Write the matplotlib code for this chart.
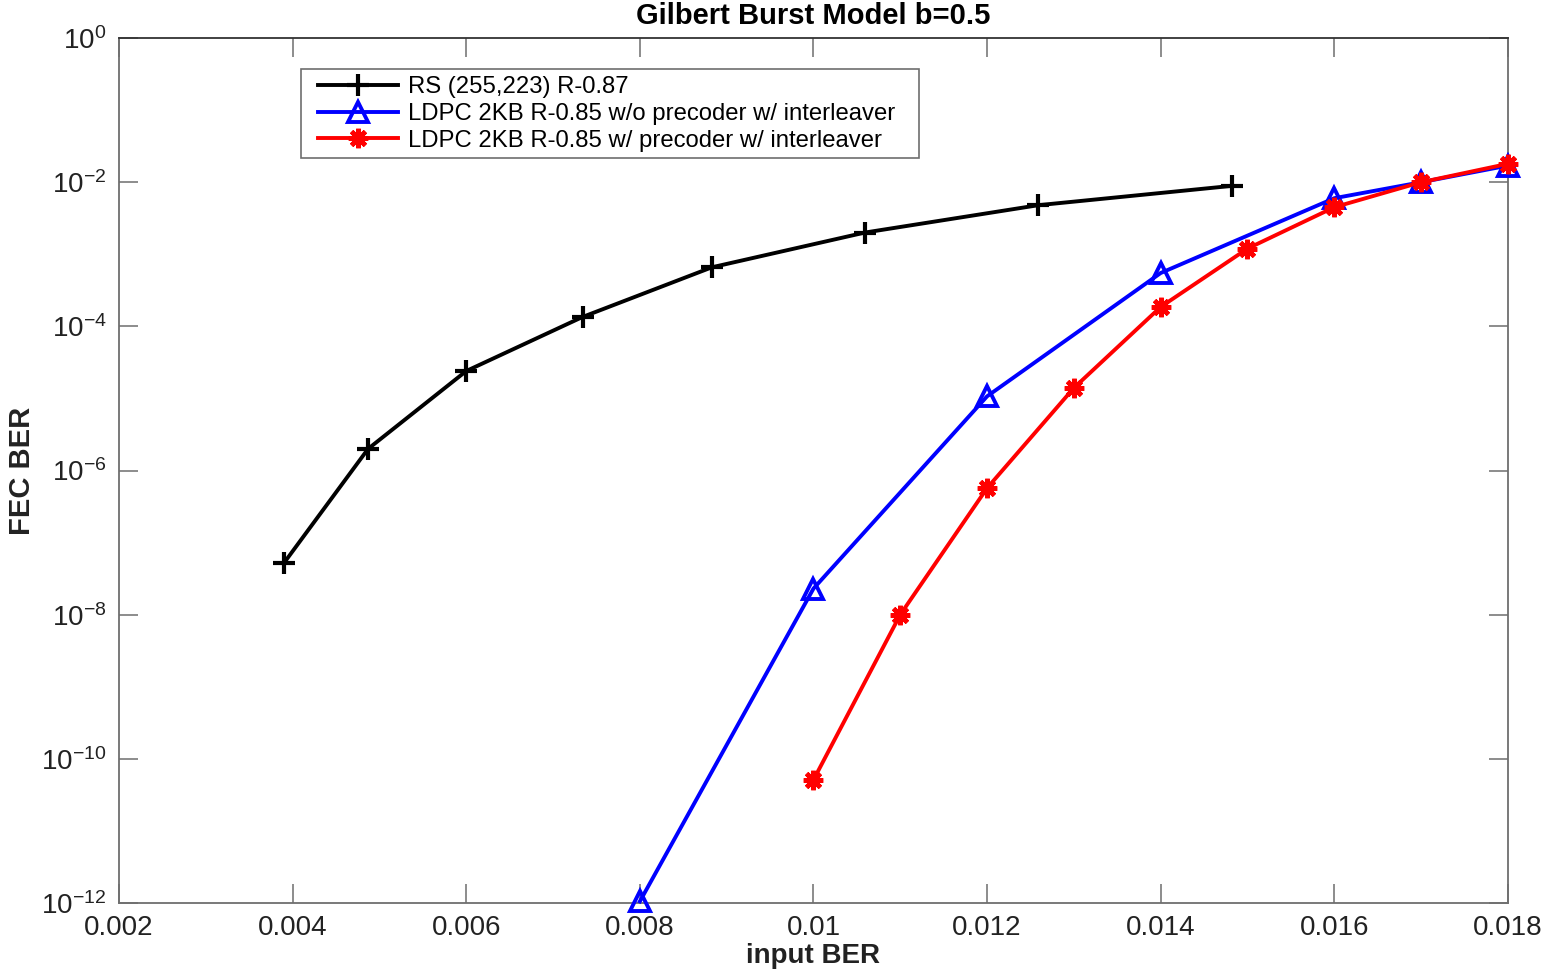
import numpy as np
import matplotlib
matplotlib.use("Agg")
import matplotlib.pyplot as plt
from matplotlib.patches import Rectangle
from matplotlib.ticker import FixedLocator, FixedFormatter, NullLocator

plt.rcParams["font.family"] = ["Liberation Sans", "DejaVu Sans"]
plt.rcParams["mathtext.fontset"] = "custom"
plt.rcParams["mathtext.rm"] = "Liberation Sans"
plt.rcParams["mathtext.it"] = "Liberation Sans:italic"
plt.rcParams["mathtext.bf"] = "Liberation Sans:bold"

# ── Data ──
rs_x = [0.0039, 0.00487, 0.0060, 0.00734, 0.00883, 0.01059, 0.01259, 0.01482]
rs_y = [5.2e-8, 2.0e-6, 2.4e-5, 1.35e-4, 6.6e-4, 2.0e-3, 4.8e-3, 8.9e-3]

ldpc_x = [0.008, 0.010, 0.012, 0.014, 0.016, 0.017, 0.018]
ldpc_y = [1.05e-12, 2.3e-8, 1.07e-5, 5.5e-4, 6.0e-3, 1.0e-2, 1.7e-2]

ldpc_pre_x = [0.010, 0.011, 0.012, 0.013, 0.014, 0.015, 0.016, 0.017, 0.018]
ldpc_pre_y = [5.1e-11, 1.0e-8, 5.7e-7, 1.4e-5, 1.86e-4, 1.2e-3, 4.5e-3, 1.0e-2, 1.8e-2]

x_ticks = [0.002, 0.004, 0.006, 0.008, 0.010, 0.012, 0.014, 0.016, 0.018]
x_labels = ["0.002", "0.004", "0.006", "0.008", "0.01", "0.012", "0.014", "0.016", "0.018"]
y_exps = [0, -2, -4, -6, -8, -10, -12]

SPINE_C = "#6e6e6e"
TXT = "#222222"

fig = plt.figure(figsize=(15.45, 9.76), dpi=100)
ax = fig.add_axes([0.077, 0.0748, 0.899, 0.8862])

ax.plot(rs_x, rs_y, color="black", lw=2.8, marker="+", ms=16, mew=3,
        label="RS (255,223) R-0.87", clip_on=False, zorder=3)
ax.plot(ldpc_x, ldpc_y, color="#0000ff", lw=2.8, marker="^", ms=15, mew=2.8,
        mfc="none", label="LDPC 2KB R-0.85 w/o precoder w/ interleaver",
        clip_on=False, zorder=3)
ax.plot(ldpc_pre_x, ldpc_pre_y, color="#ff0000", lw=2.8, marker=(8, 2, 0), ms=14,
        mew=3.4, label="LDPC 2KB R-0.85 w/ precoder w/ interleaver",
        clip_on=False, zorder=4)

ax.set_yscale("log")
ax.set_xlim(0.002, 0.018)
ax.set_ylim(1e-12, 1e0)

ax.xaxis.set_major_locator(FixedLocator(x_ticks))
ax.xaxis.set_major_formatter(FixedFormatter(x_labels))
ax.yaxis.set_major_locator(FixedLocator([10.0 ** e for e in y_exps]))
ax.yaxis.set_major_formatter(FixedFormatter([r"$10^{%d}$" % e for e in y_exps]))
ax.yaxis.set_minor_locator(NullLocator())
ax.xaxis.set_minor_locator(NullLocator())

ax.tick_params(direction="in", top=True, right=True, length=14, width=1.1,
               color=SPINE_C, labelsize=20, labelcolor=TXT, pad=9)
for sp in ax.spines.values():
    sp.set_edgecolor(SPINE_C)
    sp.set_linewidth(1.3)
ax.spines["top"].set_edgecolor("#333333")

ax.set_title("Gilbert Burst Model b=0.5", fontsize=21, fontweight="bold",
             color="black", pad=10)
ax.set_xlabel("input BER", fontsize=20, fontweight="bold", color=TXT, labelpad=1)
ax.set_ylabel("FEC BER", fontsize=21, fontweight="bold", color=TXT)
ax.yaxis.set_label_coords(-0.0594, 0.5)

# MATLAB-style legend: box drawn separately so its padding can differ per side
ax.add_patch(Rectangle((0.131, 0.8613), 0.445, 0.1029, transform=ax.transAxes,
                       facecolor="white", edgecolor=SPINE_C, lw=1.2, zorder=5))
leg = ax.legend(loc="upper left", bbox_to_anchor=(0.1433, 0.9560), fontsize=17.2,
                frameon=False, borderpad=0, labelspacing=0.2,
                handlelength=3.35, handletextpad=0.42, borderaxespad=0)
leg.set_zorder(6)

fig.savefig("out.png", dpi=100, facecolor="white")
